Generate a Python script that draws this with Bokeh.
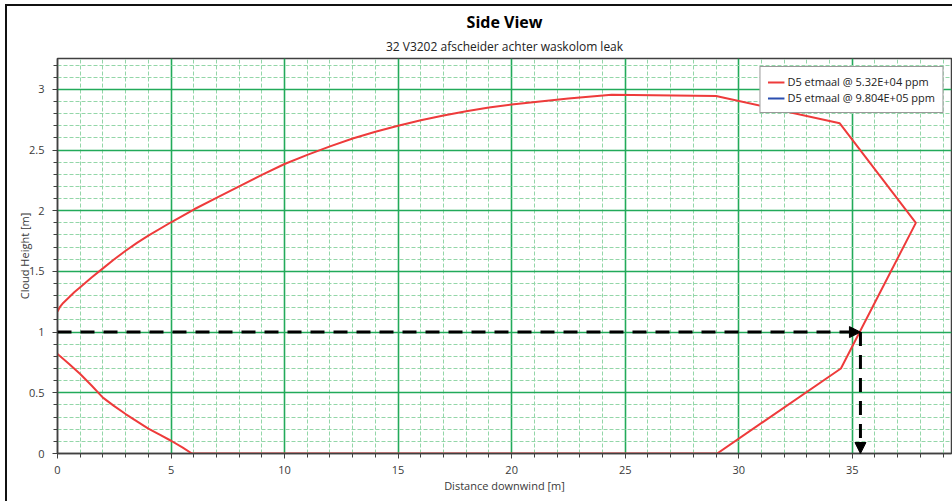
from bokeh.plotting import figure
from bokeh.models import (ColumnDataSource, Range1d, FixedTicker, Title, Arrow,
                          NormalHead, Legend, LegendItem, InlineStyleSheet)
from bokeh.embed import file_html
from bokeh.resources import INLINE

# ---------------- data ----------------
title_text = "Side View"
subtitle_text = "32 V3202 afscheider achter waskolom leak"
x_label = "Distance downwind [m]"
y_label = "Cloud Height [m]"

series1_name = "D5 etmaal @ 5.32E+04 ppm"
series2_name = "D5 etmaal @ 9.804E+05 ppm"

# cloud contour (distance downwind, height): upper edge, far edge, ground, lower edge
cloud_x = [0, 0.1, 0.25, 0.5, 0.75, 1, 1.5, 2, 2.5, 3, 3.5, 4, 5, 6, 7, 8, 9, 10,
           11, 12, 13, 14, 15, 16, 17, 18, 19, 20, 22.5, 24.4,
           29.0, 34.45, 37.8, 34.5, 29.05, 5.92,
           5.5, 5, 4.5, 4, 3.5, 3, 2.5, 2, 1.5, 1, 0.5, 0]
cloud_y = [1.17, 1.205, 1.24, 1.285, 1.33, 1.37, 1.45, 1.525, 1.6, 1.67, 1.735,
           1.795, 1.905, 2.01, 2.105, 2.2, 2.295, 2.385, 2.46, 2.53, 2.595, 2.65,
           2.70, 2.745, 2.785, 2.82, 2.85, 2.875, 2.925, 2.955,
           2.945, 2.72, 1.9, 0.7, 0.0, 0.0,
           0.05, 0.105, 0.155, 0.205, 0.265, 0.325, 0.39, 0.46, 0.56, 0.655,
           0.74, 0.82]

# second series: no contour drawn (concentration not reached)
series2_x = [float("nan")]
series2_y = [float("nan")]

# reference lookup (height 1 m -> distance)
ref_height = 1.0
ref_distance = 35.36
ref_ground = 0.0
ref_origin = 0.0

x_ticks = [0, 5, 10, 15, 20, 25, 30, 35]
x_tick_labels = ["0", "5", "10", "15", "20", "25", "30", "35"]
x_minor = list(range(0, 40))
y_ticks = [0, 0.5, 1, 1.5, 2, 2.5, 3]
y_tick_labels = ["0", "0.5", "1", "1.5", "2", "2.5", "3"]
y_minor = [i / 10 for i in range(0, 33)]

x_max = 39.37
y_max = 3.254

# ---------------- figure ----------------
FONT = "Open Sans"
TXT = "#3a3a3a"

p = figure(width=952, height=501, output_backend="svg", toolbar_location=None,
           x_range=Range1d(0, x_max), y_range=Range1d(0, y_max),
           min_border_left=57, min_border_right=1, min_border_top=58,
           min_border_bottom=48)
p.background_fill_color = "white"
p.border_fill_color = "white"
p.outline_line_color = "#404040"
p.outline_line_width = 1.5
p.stylesheets = [InlineStyleSheet(css=(
    ":host::after { content: ''; position: absolute; left: 5px; top: 4px; "
    "width: 947px; height: 497px; box-sizing: border-box; "
    "border-left: 2px solid #111; border-top: 2px solid #111; "
    "pointer-events: none; }"))]

sub = Title(text=subtitle_text, align="center", text_font=FONT,
            text_font_size="12px", text_font_style="normal", text_color="#222222",
            standoff=7)
main = Title(text=title_text, align="center", text_font=FONT,
             text_font_size="16px", text_font_style="bold", text_color="black",
             standoff=0)
p.add_layout(sub, "above")
p.add_layout(main, "above")

# axes
p.xaxis.ticker = FixedTicker(ticks=x_ticks, minor_ticks=x_minor)
p.yaxis.ticker = FixedTicker(ticks=y_ticks, minor_ticks=y_minor)
p.xaxis.major_label_overrides = {t: l for t, l in zip(x_ticks, x_tick_labels)}
p.yaxis.major_label_overrides = {t: l for t, l in zip(y_ticks, y_tick_labels)}
for ax in (p.xaxis[0], p.yaxis[0]):
    ax.axis_line_color = "#404040"
    ax.axis_line_width = 1.5
    ax.major_tick_line_color = "#404040"
    ax.minor_tick_line_color = "#404040"
    ax.major_tick_out = 5
    ax.major_tick_in = 0
    ax.minor_tick_out = 4
    ax.minor_tick_in = 0
    ax.major_label_text_font = FONT
    ax.major_label_text_font_size = "11px"
    ax.major_label_text_color = TXT
    ax.axis_label_text_font = FONT
    ax.axis_label_text_font_size = "11px"
    ax.axis_label_text_font_style = "normal"
    ax.axis_label_text_color = TXT
p.xaxis.axis_label = x_label
p.yaxis.axis_label = y_label
p.xaxis.major_label_standoff = 7
p.yaxis.major_label_standoff = 8
p.xaxis.axis_label_standoff = 1
p.yaxis.axis_label_standoff = -6

# grids
for g in (p.xgrid[0], p.ygrid[0]):
    g.grid_line_color = "#22aa5a"
    g.grid_line_width = 1.6
    g.minor_grid_line_color = "#93d6a8"
    g.minor_grid_line_width = 1
    g.minor_grid_line_dash = "4 2"
p.xgrid.ticker = FixedTicker(ticks=x_ticks, minor_ticks=x_minor)
p.ygrid.ticker = FixedTicker(ticks=y_ticks, minor_ticks=y_minor)

# data lines
src1 = ColumnDataSource(dict(x=cloud_x, y=cloud_y))
src2 = ColumnDataSource(dict(x=series2_x, y=series2_y))
r1 = p.line("x", "y", source=src1, line_color="#ee3b3b", line_width=2)
r2 = p.line("x", "y", source=src2, line_color="#2b4fb0", line_width=2)

# reference arrows
arrow_src = ColumnDataSource(dict(
    x0=[ref_origin, ref_distance], y0=[ref_height, ref_height],
    x1=[ref_distance, ref_distance], y1=[ref_height, ref_ground]))
p.add_layout(Arrow(end=NormalHead(size=11, fill_color="black", line_color="black",
                                  line_width=1),
                   x_start="x0", y_start="y0", x_end="x1", y_end="y1",
                   source=arrow_src, line_color="black", line_width=3,
                   line_dash="14 9"))

legend = Legend(items=[LegendItem(label=series1_name, renderers=[r1]),
                       LegendItem(label=series2_name, renderers=[r2])],
                location="top_right", margin=8, padding=7, spacing=1,
                glyph_width=17, glyph_height=14, label_height=14,
                label_standoff=3,
                label_text_font=FONT, label_text_font_size="11px",
                label_text_color="#222222",
                border_line_color="#333333", border_line_width=1,
                background_fill_color="white", background_fill_alpha=1)
p.add_layout(legend)

open("out.html", "w").write(file_html(p, INLINE))
